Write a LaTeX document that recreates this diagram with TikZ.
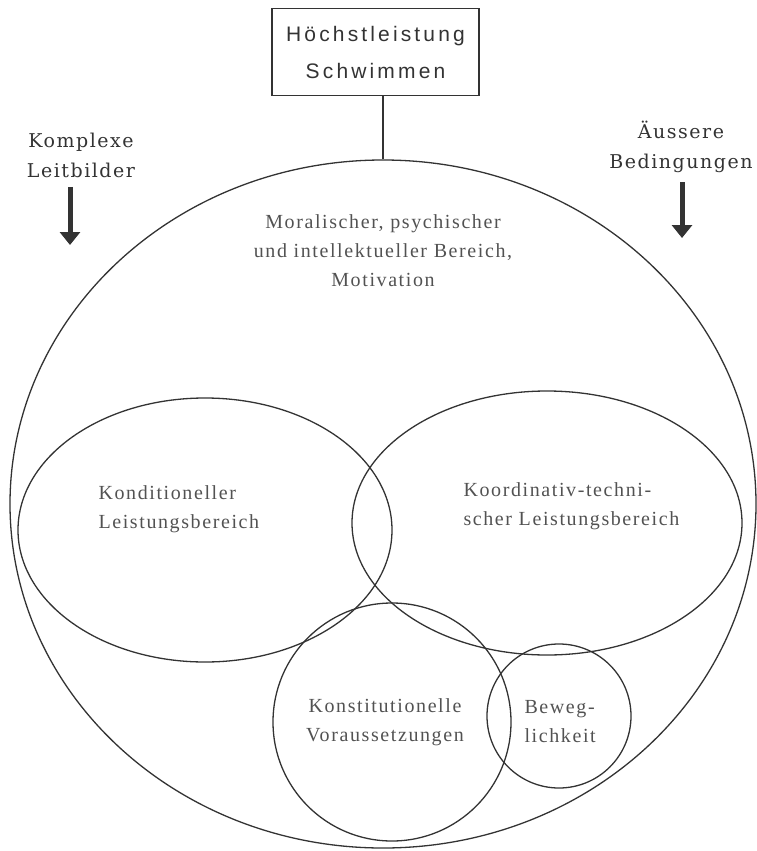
\documentclass[tikz,border=0pt]{standalone}
\usepackage{fontspec}
\usetikzlibrary{shapes.geometric,arrows.meta}
\newfontfamily\bodyfont{Liberation Serif}[LetterSpace=8]
\newfontfamily\boxfont{Liberation Sans}[LetterSpace=15]
\newfontfamily\labelfont{DejaVu Serif}[LetterSpace=8]
\definecolor{ink}{HTML}{333333}
\begin{document}
\begin{tikzpicture}[x=1pt,y=-1pt,
    ring/.style={draw=ink,line width=1.3pt,ellipse,inner sep=0pt},
    body/.style={text=ink!85,font=\bodyfont\fontsize{20}{29}\selectfont},
    seitlich/.style={text=ink,align=center,font=\labelfont\fontsize{19}{30}\selectfont},
    bigarrow/.style={draw=ink,line width=5pt,shorten <=6pt,-{Triangle[width=20pt,length=13pt]}}]
    \useasboundingbox (0,0) rectangle (756,851);
    % Kreise
    \node [ring,minimum width=746pt,minimum height=688pt] (gesamt) at (383,504) {};
    \node [ring,minimum width=374pt,minimum height=264pt] (kond) at (205,530) {};
    \node [ring,minimum width=390pt,minimum height=264pt] (koord) at (547,523) {};
    \node [ring,circle,minimum size=238pt] (konst) at (392,722) {};
    \node [ring,circle,minimum size=144pt] (bewegl) at (559,716) {};
    % Ziel oben
    \node [draw=ink,line width=1.3pt,minimum width=207pt,minimum height=87pt,align=center,
           text=ink,font=\boxfont\fontsize{21}{37}\selectfont] (ziel) at (375.5,52) {Höchstleistung\\Schwimmen};
    \draw [ink,line width=1.3pt] (gesamt.north) -- (gesamt.north |- ziel.south);
    % seitliche Einfluesse
    \node [seitlich] (komplexe) at (81,155) {Komplexe\\Leitbilder};
    \node [seitlich] (aeussere) at (681,147) {Äussere\\Bedingungen};
    \coordinate (kl-tip) at (70,245);
    \coordinate (ab-tip) at (682,238);
    \draw [bigarrow] (komplexe.south -| kl-tip) -- (kl-tip);
    \draw [bigarrow] (aeussere.south -| ab-tip) -- (ab-tip);
    % Beschriftungen
    \node [body,align=center] (moral) at (383,251) {Moralischer, psychischer\\und intellektueller Bereich,\\Motivation};
    \node [body,align=left,anchor=west] (kondtext) at (95,509) {Konditioneller\\Leistungsbereich};
    \node [body,align=left,anchor=west] (koordtext) at (460,506) {Koordinativ-techni-\\scher Leistungsbereich};
    \node [body,align=center] (konsttext) at (385,722) {Konstitutionelle\\Voraussetzungen};
    \node [body,align=left,anchor=west] (bewegtext) at (521,722) {Beweg-\\lichkeit};
\end{tikzpicture}
\end{document}
